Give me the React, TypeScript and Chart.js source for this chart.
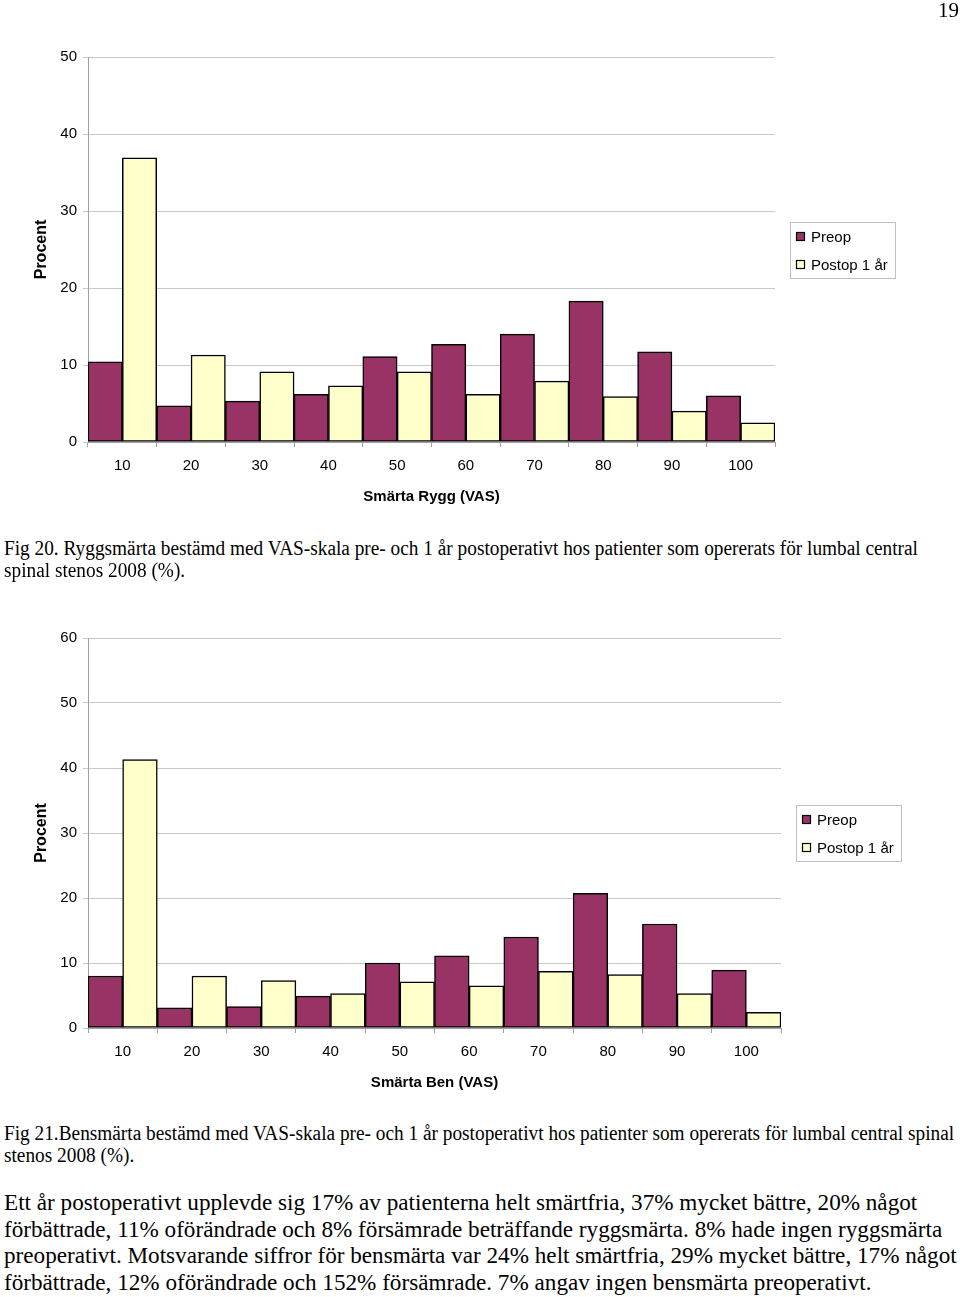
import React, { useEffect, useRef } from 'react';
import { Chart, registerables } from 'chart.js';

Chart.register(...registerables);

const categories = ['10', '20', '30', '40', '50', '60', '70', '80', '90', '100'];
const seriesLabels = ['Preop', 'Postop 1 år'];
const ryggPreop = [10.4, 4.7, 5.3, 6.2, 11.1, 12.7, 14.0, 18.3, 11.7, 6.0];
const ryggPostop = [36.9, 11.3, 9.1, 7.3, 9.1, 6.2, 7.9, 5.9, 4.0, 2.5];
const benPreop = [8.0, 3.1, 3.3, 4.9, 10.0, 11.1, 14.0, 20.7, 16.0, 8.9];
const benPostop = [41.3, 8.0, 7.3, 5.3, 7.1, 6.5, 8.7, 8.2, 5.3, 2.4];
const ryggTicksMax = 50;
const benTicksMax = 60;

const PREOP_COLOR = '#993366';
const POSTOP_COLOR = '#FFFFCC';
const SANS = '"Liberation Sans", Arial, sans-serif';
const SERIF = '"Liberation Serif", "Times New Roman", serif';

const boxLegend = {
  id: 'boxLegend',
  afterDraw(chart: any) {
    const { ctx, chartArea } = chart;
    const w = 105;
    const h = 56;
    const x = Math.round(chartArea.right + 15);
    const y = Math.round((chartArea.top + chartArea.bottom) / 2 - h / 2);
    ctx.save();
    ctx.fillStyle = '#fff';
    ctx.fillRect(x, y, w, h);
    ctx.strokeStyle = '#c0c0c0';
    ctx.lineWidth = 1;
    ctx.strokeRect(x + 0.5, y + 0.5, w, h);
    ctx.font = `15px ${SANS}`;
    ctx.textBaseline = 'middle';
    ctx.textAlign = 'left';
    chart.data.datasets.forEach((ds: any, i: number) => {
      const cy = y + 14 + i * 28;
      ctx.fillStyle = ds.backgroundColor;
      ctx.fillRect(x + 6, cy - 4, 9, 9);
      ctx.strokeStyle = '#000';
      ctx.lineWidth = 1.2;
      ctx.strokeRect(x + 6.5, cy - 3.5, 8, 8);
      ctx.fillStyle = '#000';
      ctx.fillText(ds.label, x + 21, cy + 1.5);
    });
    ctx.restore();
  },
};

function BarChart(props: {
  preop: number[];
  postop: number[];
  max: number;
  xTitle: string;
  height: number;
  padTop: number;
  padRight: number;
  padBottom: number;
}) {
  const ref = useRef<HTMLCanvasElement | null>(null);
  useEffect(() => {
    if (!ref.current) return;
    const font = { family: SANS, size: 15 };
    const chart = new Chart(ref.current, {
      type: 'bar',
      data: {
        labels: categories,
        datasets: [
          {
            label: seriesLabels[0],
            data: props.preop,
            backgroundColor: PREOP_COLOR,
            borderColor: '#000',
            borderWidth: 1.5,
            borderSkipped: false,
            barPercentage: 1,
            categoryPercentage: 1,
          },
          {
            label: seriesLabels[1],
            data: props.postop,
            backgroundColor: POSTOP_COLOR,
            borderColor: '#000',
            borderWidth: 1.5,
            borderSkipped: false,
            barPercentage: 1,
            categoryPercentage: 1,
          },
        ],
      },
      options: {
        animation: false,
        responsive: false,
        devicePixelRatio: 1,
        layout: {
          padding: { top: props.padTop, left: 0, right: props.padRight, bottom: props.padBottom },
        },
        plugins: {
          legend: { display: false },
          tooltip: { enabled: false },
        },
        scales: {
          x: {
            grid: { drawOnChartArea: false, drawTicks: true, tickLength: 5, color: '#a0a0a0', offset: true },
            border: { color: '#a0a0a0' },
            ticks: { color: '#000', font, padding: 10, maxRotation: 0 },
            title: {
              display: true,
              text: props.xTitle,
              color: '#000',
              font: { family: SANS, size: 15, weight: 'bold' },
              padding: { top: 0, bottom: 6 },
            },
            afterFit: (s: any) => {
              s.height = 70;
            },
          },
          y: {
            min: 0,
            max: props.max,
            ticks: { stepSize: 10, color: '#000', font, padding: 6 },
            grid: { color: '#c8c8c8', tickLength: 5, drawTicks: true },
            border: { color: '#a0a0a0' },
            title: {
              display: true,
              text: 'Procent',
              color: '#000',
              font: { family: SANS, size: 16, weight: 'bold' },
              padding: { top: 32, bottom: 0 },
            },
            afterFit: (s: any) => {
              s.width = 88;
            },
          },
        },
      },
      plugins: [boxLegend],
    } as any);
    return () => chart.destroy();
  }, []);
  return <canvas ref={ref} width={960} height={props.height} style={{ display: 'block' }} />;
}

const textLine = (top: number, size: number, lh: number, sx: number, text: string, left = 4) => (
  <div
    style={{
      position: 'absolute',
      top,
      left,
      height: lh,
      lineHeight: `${lh}px`,
      fontFamily: SERIF,
      fontSize: size,
      whiteSpace: 'nowrap',
      transform: `scaleX(${sx})`,
      transformOrigin: 'left center',
      color: '#000',
    }}
  >
    {text}
  </div>
);

const SX = 0.965;

export default function App() {
  return (
    <div
      style={{
        position: 'absolute',
        left: 0,
        top: 0,
        width: 960,
        height: 1297,
        background: '#fff',
        overflow: 'hidden',
      }}
    >
      <div style={{ position: 'absolute', left: 0, top: 0 }}>
        <BarChart
          preop={ryggPreop}
          postop={ryggPostop}
          max={ryggTicksMax}
          xTitle="Smärta Rygg (VAS)"
          height={520}
          padTop={57}
          padRight={185}
          padBottom={8}
        />
      </div>
      <div style={{ position: 'absolute', left: 0, top: 580 }}>
        <BarChart
          preop={benPreop}
          postop={benPostop}
          max={benTicksMax}
          xTitle="Smärta Ben (VAS)"
          height={520}
          padTop={58}
          padRight={179}
          padBottom={2}
        />
      </div>
      {textLine(-2, 21, 24, 1, '19', 938)}
      {textLine(537, 20, 22, SX, 'Fig 20. Ryggsmärta bestämd med VAS-skala pre- och 1 år postoperativt hos patienter som opererats för lumbal central')}
      {textLine(559, 20, 22, SX, 'spinal stenos 2008 (%).')}
      {textLine(1122, 20, 22, SX, 'Fig 21.Bensmärta bestämd med VAS-skala pre- och 1 år postoperativt hos patienter som opererats för lumbal central spinal')}
      {textLine(1144, 20, 22, SX, 'stenos 2008 (%).')}
      {textLine(1189, 24, 27, SX, 'Ett år postoperativt upplevde sig 17% av patienterna helt smärtfria, 37% mycket bättre, 20% något')}
      {textLine(1216, 24, 27, SX, 'förbättrade, 11% oförändrade och 8% försämrade beträffande ryggsmärta. 8% hade ingen ryggsmärta')}
      {textLine(1242, 24, 27, SX, 'preoperativt. Motsvarande siffror för bensmärta var 24% helt smärtfria, 29% mycket bättre, 17% något')}
      {textLine(1269, 24, 27, SX, 'förbättrade, 12% oförändrade och 152% försämrade. 7% angav ingen bensmärta preoperativt.')}
    </div>
  );
}
